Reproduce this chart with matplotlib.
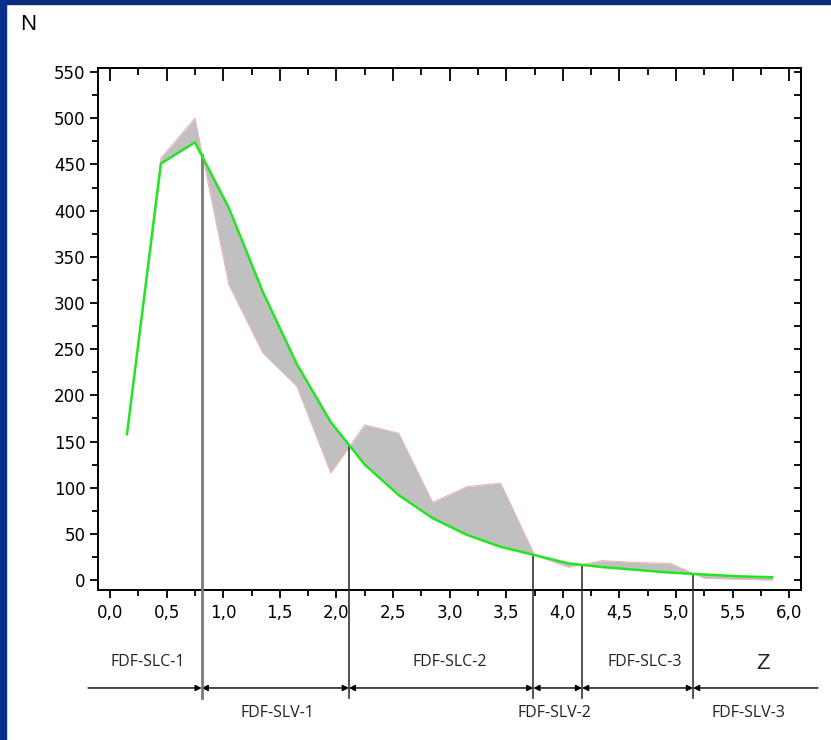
import numpy as np
import matplotlib.pyplot as plt
from matplotlib.patches import Rectangle

# bin centres (Z) and counts
z = [0.15, 0.45, 0.75, 1.05, 1.35, 1.65, 1.95, 2.25, 2.55, 2.85,
     3.15, 3.45, 3.75, 4.05, 4.35, 4.65, 4.95, 5.25, 5.55, 5.85]
n_observed = [158, 457, 500, 320, 246, 210, 116, 168, 159, 84,
              101, 105, 27, 14, 21, 19, 18, 2, 1, 0]
n_fit = [158, 451, 474, 403, 312, 234, 171, 125, 92, 67,
         49, 36, 27, 18, 14, 11, 8, 6, 4, 3]

# section boundaries on Z
boundaries = [0.81, 2.11, 3.74, 4.17, 5.15]
upper_labels = [("FDF-SLC-1", 0.33), ("FDF-SLC-2", 3.0), ("FDF-SLC-3", 4.72)]
lower_labels = [("FDF-SLV-1", 1.48), ("FDF-SLV-2", 3.93), ("FDF-SLV-3", 5.64)]

plt.rcParams["font.family"] = ["DejaVu Sans"]

fig = plt.figure(figsize=(8.31, 7.40), dpi=100)
fig.patch.set_facecolor("white")
# blue frame strips (top and left)
fig.patches.append(Rectangle((0, 1 - 4 / 740), 1, 4 / 740, transform=fig.transFigure,
                             color="#0b2a78", zorder=0))
fig.patches.append(Rectangle((0, 0), 6 / 831, 1, transform=fig.transFigure,
                             color="#0b2f8e", zorder=0))

ax = fig.add_axes([98 / 831, 1 - 590 / 740, 703 / 831, 522 / 740])
ax.set_xlim(-0.106, 6.104)
ax.set_ylim(-10.8, 554.5)

ax.fill_between(z, n_observed, n_fit, color="#c0c0c0", lw=0, zorder=2)
ax.plot(z, n_observed, color="#e8b8b8", lw=0.8, zorder=3)
ax.plot(z, n_fit, color="#22e622", lw=1.8, zorder=5)

y_line = -116.9
y_bottom = -127.8
fit_at = np.interp(boundaries, z, n_fit)
for i, (b, top) in enumerate(zip(boundaries, fit_at)):
    col, lw = ("#7a7a7a", 2.0) if i == 0 else ("#333333", 1.2)
    ax.plot([b, b], [top, y_bottom], color=col, lw=lw, clip_on=False, zorder=4)

# arrowed dimension line under the axis
edges = [-0.194] + boundaries + [6.254]
for i in range(len(edges) - 1):
    if i == 0:
        style = "-|>"
    elif i == len(edges) - 2:
        style = "<|-"
    else:
        style = "<|-|>"
    ax.annotate("", xy=(edges[i + 1], y_line), xytext=(edges[i], y_line),
                arrowprops=dict(arrowstyle=style, color="black", lw=1.0,
                                mutation_scale=9, shrinkA=0, shrinkB=0),
                annotation_clip=False)

lab_font = ["Open Sans", "DejaVu Sans"]
for txt, x in upper_labels:
    ax.text(x, -88.5, txt, ha="center", va="center", fontsize=11.5,
            family=lab_font, color="#222222")
for txt, x in lower_labels:
    ax.text(x, -144, txt, ha="center", va="center", fontsize=11.5,
            family=lab_font, color="#222222")
ax.text(5.77, -90, "Z", ha="center", va="center", fontsize=16,
        family=["Liberation Sans", "DejaVu Sans"], color="#222222")
fig.text(28 / 831, 1 - 25 / 740, "N", ha="center", va="center", fontsize=16,
         family=["Liberation Sans", "DejaVu Sans"])

# ticks
xt = np.arange(0, 6.01, 0.5)
ax.set_xticks(xt)
ax.set_xticklabels([f"{v:.1f}".replace(".", ",") for v in xt])
ax.set_xticks(np.arange(0.25, 6.0, 0.5), minor=True)
ax.set_yticks(np.arange(0, 551, 50))
ax.set_yticks(np.arange(25, 551, 50), minor=True)
ax.tick_params(which="major", direction="out", length=6, width=1.3,
               labelsize=12, pad=3, colors="black")
ax.tick_params(which="minor", direction="out", length=4, width=1.3)
ax.tick_params(axis="x", which="major", pad=4)

top = ax.secondary_xaxis("top")
top.set_xticks(xt)
top.set_xticks(np.arange(0.25, 6.0, 0.5), minor=True)
top.tick_params(which="major", direction="in", length=9, width=1.3, labeltop=False)
top.tick_params(which="minor", direction="in", length=5, width=1.3)
right = ax.secondary_yaxis("right")
right.set_yticks(np.arange(0, 551, 50))
right.set_yticks(np.arange(25, 551, 50), minor=True)
right.tick_params(which="both", direction="in", length=5, width=1.3, labelright=False)

for s in list(ax.spines.values()) + [top.spines["top"], right.spines["right"]]:
    s.set_linewidth(1.4)

fig.savefig("out.png", dpi=100, facecolor=fig.get_facecolor())
